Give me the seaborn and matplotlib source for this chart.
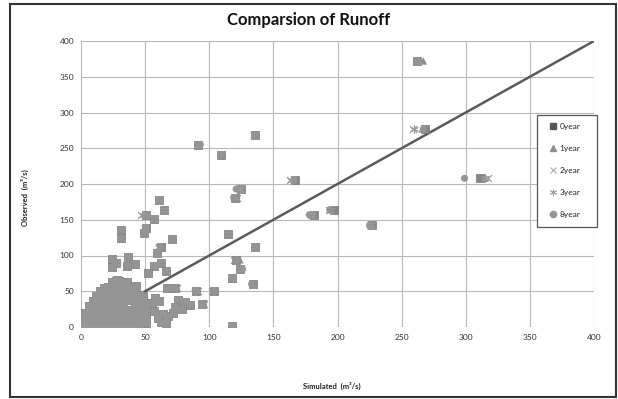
import matplotlib
matplotlib.use("Agg")
import matplotlib.pyplot as plt
import seaborn as sns
import pandas as pd
from matplotlib.patches import Rectangle
from matplotlib.lines import Line2D

# ---------------- data ----------------
# Outlying points: observed runoff shared, simulated per scenario
observed = [372, 277, 268, 255, 241, 208, 206, 193, 181, 178, 164, 163, 157, 156,
            151, 142, 139, 132, 135, 130, 124, 123, 112, 112, 103, 98, 95, 94, 89,
            90, 88, 86, 86, 84, 81, 79, 76, 68, 66, 63, 60, 58, 54, 54, 51, 51, 43,
            41, 38, 36, 35, 33, 32, 31, 28, 25, 19, 18, 12, 7, 5, 1, 22, 15]
sim_0year = [262, 268, 136, 91, 109, 311, 167, 125, 120, 61, 197, 65, 182, 51,
             57, 227, 51, 49, 31, 115, 31, 71, 136, 62, 59, 37, 24, 121, 27,
             62, 42, 36, 57, 24, 124, 66, 52, 118, 28, 36, 134, 43, 73, 67, 90, 104, 48,
             58, 76, 61, 81, 55, 94, 85, 73, 79, 72, 64, 60, 62, 66, 118, 57, 68]
sim_1year = [267, 266, 136, 91, 109, 315, 166, 124, 120, 61, 194, 65, 181, 51,
             57, 227, 51, 49, 31, 115, 31, 71, 136, 62, 59, 37, 24, 124, 27,
             62, 42, 36, 57, 24, 124, 66, 52, 118, 28, 36, 134, 43, 73, 67, 91, 104, 48,
             58, 76, 61, 81, 55, 95, 85, 73, 79, 72, 64, 60, 62, 66, 118, 57, 68]
sim_2year = [263, 259, 135, 91, 109, 317, 163, 124, 122, 61, 193, 65, 179, 47,
             57, 225, 50, 49, 31, 115, 31, 71, 136, 61, 59, 37, 24, 119, 27,
             62, 42, 36, 57, 24, 124, 66, 52, 118, 28, 36, 134, 43, 75, 67, 91, 102, 48,
             58, 76, 61, 81, 55, 96, 85, 73, 79, 72, 64, 60, 62, 66, 118, 57, 68]
sim_3year = [263, 260, 135, 91, 109, 315, 164, 124, 121, 61, 195, 65, 180, 48,
             57, 226, 50, 49, 31, 115, 31, 71, 136, 61, 59, 37, 24, 120, 27,
             62, 42, 36, 57, 24, 124, 66, 52, 118, 28, 36, 134, 43, 74, 67, 90, 103, 48,
             58, 76, 61, 81, 55, 95, 85, 73, 79, 72, 64, 60, 62, 66, 118, 57, 68]
sim_8year = [262, 267, 137, 93, 109, 299, 166, 121, 119, 61, 194, 66, 178, 52,
             57, 225, 51, 50, 31, 115, 31, 71, 137, 62, 59, 37, 24, 121, 27,
             62, 42, 36, 57, 24, 126, 67, 52, 118, 28, 36, 133, 44, 72, 67, 89, 104, 48,
             58, 76, 61, 81, 55, 94, 85, 73, 79, 72, 64, 60, 62, 66, 118, 57, 68]

# Dense low-flow cluster (same for all scenarios at this scale)
low_sim = [0.5, 0.5, 0.5,
           3, 3, 3, 3,
           6, 6, 6, 6, 6,
           9, 9, 9, 9, 9, 9,
           12, 12, 12, 12, 12, 12, 12,
           15, 15, 15, 15, 15, 15, 15, 15,
           18, 18, 18, 18, 18, 18, 18, 18, 18,
           21, 21, 21, 21, 21, 21, 21, 21, 21,
           24, 24, 24, 24, 24, 24, 24, 24, 24, 24,
           27, 27, 27, 27, 27, 27, 27, 27, 27, 27,
           30, 30, 30, 30, 30, 30, 30, 30, 30, 30,
           33, 33, 33, 33, 33, 33, 33, 33, 33, 33,
           36, 36, 36, 36, 36, 36, 36, 36,
           39, 39, 39, 39, 39, 39, 39,
           42, 42, 42, 42, 42, 42, 42, 42,
           45, 45, 45, 45, 45, 45, 45,
           48, 48, 48, 48, 48, 48,
           51, 51, 51, 51, 51]
low_obs = [0, 5, 10,
           0, 6, 13, 19,
           1, 8, 15, 22, 29,
           1, 8, 15, 22, 29, 36,
           1, 8, 15, 22, 29, 36, 44,
           1, 8, 15, 22, 29, 36, 44, 50,
           1, 8, 15, 22, 29, 36, 44, 51, 55,
           1, 8, 15, 22, 29, 36, 44, 51, 56,
           2, 9, 16, 23, 30, 37, 44, 51, 58, 63,
           2, 9, 16, 23, 30, 37, 44, 51, 58, 64,
           2, 9, 16, 23, 30, 37, 44, 51, 58, 65,
           2, 9, 16, 23, 30, 37, 44, 51, 57, 63,
           3, 10, 17, 24, 38, 45, 52, 58,
           3, 10, 17, 24, 40, 47, 53,
           3, 10, 17, 24, 31, 38, 45, 50,
           4, 11, 18, 25, 32, 39, 45,
           4, 11, 18, 25, 32, 40,
           5, 12, 19, 26, 33]

series_names = ["0year", "1year", "2year", "3year", "8year"]
axis_ticks = [0, 50, 100, 150, 200, 250, 300, 350, 400]

# ---------------- figure ----------------
sns.set_theme(style="white")
plt.rcParams["font.family"] = ["Lato", "DejaVu Sans"]

fig = plt.figure(figsize=(6.18, 3.99), dpi=100)
ax = fig.add_axes([81 / 618, 1 - 327 / 399, 513 / 618, 286 / 399])

ax.plot([0, 400], [0, 400], color="#5a5a5a", lw=1.8, zorder=2)

sims = [sim_0year, sim_1year, sim_2year, sim_3year, sim_8year]
styles = [
    dict(marker="s", color="#858585", s=26, edgecolor="#7a7a7a", linewidth=0.5),
    dict(marker="^", color="#8e8e8e", s=28, edgecolor="none", linewidth=0),
    dict(marker="x", color="#9a9a9a", s=26, linewidth=0.8),
    dict(marker=(6, 2, 0), color="#9a9a9a", s=30, linewidth=0.8),
    dict(marker="o", color="#959595", s=26, edgecolor="none", linewidth=0),
]
for name, sim, st in zip(series_names, sims, styles):
    df = pd.DataFrame({"Simulated": list(sim) + low_sim,
                       "Observed": list(observed) + low_obs})
    sns.scatterplot(data=df, x="Simulated", y="Observed", ax=ax, zorder=3,
                    legend=False, **st)

ax.set_xlim(0, 400)
ax.set_ylim(0, 400)
ax.set_xticks(axis_ticks)
ax.set_yticks(axis_ticks)
ax.grid(True, color="#b8b8b8", lw=0.8)
for sp in ax.spines.values():
    sp.set_visible(False)
ax.tick_params(axis="both", labelsize=6, colors="#333333", length=0, pad=5)
ax.set_xlabel("")
ax.set_ylabel("")

# legend (frame drawn separately so its box matches the reference)
handles = [
    Line2D([], [], ls="", marker="s", color="#555555", markersize=4.5),
    Line2D([], [], ls="", marker="^", color="#8e8e8e", markersize=4.5),
    Line2D([], [], ls="", marker="x", color="#a0a0a0", markersize=4.5, mew=0.7),
    Line2D([], [], ls="", marker=(6, 2, 0), color="#a0a0a0", markersize=5, mew=0.7),
    Line2D([], [], ls="", marker="o", color="#959595", markersize=4.5),
]
frame = Rectangle((537 / 618, 1 - 227 / 399), 60 / 618, 112 / 399,
                  transform=fig.transFigure, facecolor="white",
                  edgecolor="#555555", lw=0.9, zorder=4, clip_on=False)
ax.add_patch(frame)
leg = ax.legend(handles, series_names, loc="upper left",
                bbox_to_anchor=(550 / 618, 1 - 123 / 399), bbox_transform=fig.transFigure,
                fontsize=6, frameon=False, labelspacing=1.8,
                handlelength=0.8, handletextpad=0.35, borderpad=0,
                borderaxespad=0)
leg.set_zorder(6)

fig.text(0.5, 1 - 20 / 399, "Comparsion of Runoff", ha="center", va="center",
         fontsize=12, fontweight="bold", color="#111111")
fig.text(332 / 618, 1 - 386 / 399, "Simulated  (m³/s)", ha="center", va="center",
         fontsize=5.5, fontweight="bold", color="#222222")
fig.text(25 / 618, 1 - 198 / 399, "Observed  (m³/s)", ha="center", va="center",
         rotation=90, fontsize=5.5, fontweight="bold", color="#222222")

fig.patches.append(Rectangle((10 / 618, 2 / 399), 606 / 618, 393 / 399,
                             transform=fig.transFigure, fill=False,
                             edgecolor="#333333", lw=1.5))

fig.savefig("out.png", dpi=100)
